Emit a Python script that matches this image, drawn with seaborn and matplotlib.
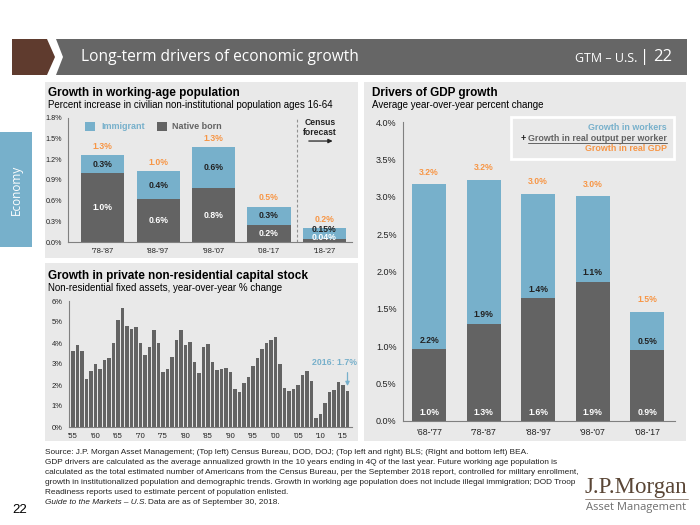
import matplotlib
matplotlib.use("Agg")
import matplotlib.pyplot as plt
import seaborn as sns
import pandas as pd
from matplotlib.patches import Rectangle, Polygon
from matplotlib.lines import Line2D
from matplotlib.ticker import FixedLocator

# ---------------- data ----------------
pop_periods = ["'78-'87", "'88-'97", "'98-'07", "'08-'17", "'18-'27"]
pop_native = [1.00, 0.62, 0.78, 0.25, 0.05]
pop_immigrant = [0.26, 0.41, 0.59, 0.26, 0.155]
pop_native_labels = ["1.0%", "0.6%", "0.8%", "0.2%", "0.04%"]
pop_immigrant_labels = ["0.3%", "0.4%", "0.6%", "0.3%", "0.15%"]
pop_total_labels = ["1.3%", "1.0%", "1.3%", "0.5%", "0.2%"]
pop_yticks = [0.0, 0.3, 0.6, 0.9, 1.2, 1.5, 1.8]

capex_years = list(range(1955, 2017))
capex_growth = [3.6, 3.9, 3.6, 2.3, 2.65, 3.0, 2.75, 3.2, 3.3, 4.0,
                5.1, 5.65, 4.8, 4.65, 4.75, 4.0, 3.45, 3.8, 4.6, 4.0,
                2.6, 2.75, 3.35, 4.15, 4.6, 3.9, 4.05, 3.1, 2.55, 3.8,
                3.95, 3.1, 2.7, 2.75, 2.8, 2.6, 1.8, 1.65, 2.1, 2.4,
                2.9, 3.3, 3.7, 4.0, 4.15, 4.3, 3.0, 1.85, 1.7, 1.8,
                2.0, 2.5, 2.65, 2.2, 0.45, 0.6, 1.15, 1.65, 1.75, 2.15,
                2.0, 1.7]
capex_tick_years = [1955, 1960, 1965, 1970, 1975, 1980, 1985, 1990, 1995, 2000, 2005, 2010, 2015]
capex_tick_labels = ["'55", "'60", "'65", "'70", "'75", "'80", "'85", "'90", "'95", "'00", "'05", "'10", "'15"]

gdp_periods = ["'68-'77", "'78-'87", "'88-'97", "'98-'07", "'08-'17"]
gdp_output_per_worker = [0.96, 1.30, 1.64, 1.86, 0.95]
gdp_workers = [2.21, 1.93, 1.40, 1.15, 0.51]
gdp_opw_labels = ["1.0%", "1.3%", "1.6%", "1.9%", "0.9%"]
gdp_workers_labels = ["2.2%", "1.9%", "1.4%", "1.1%", "0.5%"]
gdp_total_labels = ["3.2%", "3.2%", "3.0%", "3.0%", "1.5%"]
gdp_yticks = [0.0, 0.5, 1.0, 1.5, 2.0, 2.5, 3.0, 3.5, 4.0]

footnote_lines = [
    "Source: J.P. Morgan Asset Management; (Top left) Census Bureau, DOD, DOJ; (Top left and right) BLS; (Right and bottom left) BEA.",
    "GDP drivers are calculated as the average annualized growth in the 10 years ending in 4Q of the last year. Future working age population is",
    "calculated as the total estimated number of Americans from the Census Bureau, per the September 2018 report, controlled for military enrollment,",
    "growth in institutionalized population and demographic trends. Growth in working age population does not include illegal immigration; DOD Troop",
    "Readiness reports used to estimate percent of population enlisted.",
]

# ---------------- style ----------------
sns.set_style("white")
plt.rcParams['font.family'] = ['Liberation Sans', 'DejaVu Sans']

BLUE = "#77B0CB"
DARK = "#636363"
ORANGE = "#F79646"
PANEL = "#E9E9E9"
HEADER = "#666666"
BROWN = "#5F3B2E"
SPINE = "#808080"
TXT = "#222222"

W, H = 700, 525
fig = plt.figure(figsize=(7, 5.25), dpi=100)


def fx(x):
    return x / W


def fy(y):
    return 1 - y / H


def prect(x0, y0, x1, y1, **kw):
    kw.setdefault('zorder', -10)
    fig.patches.append(Rectangle((fx(x0), fy(y1)), (x1 - x0) / W, (y1 - y0) / H,
                                 transform=fig.transFigure, **kw))


def ppoly(pts, **kw):
    kw.setdefault('zorder', -10)
    fig.patches.append(Polygon([(fx(x), fy(y)) for x, y in pts], closed=True,
                               transform=fig.transFigure, **kw))


def ptext(x, y, s, **kw):
    kw.setdefault('va', 'center')
    return fig.text(fx(x), fy(y), s, **kw)


# header
ppoly([(12, 39), (47, 39), (55, 57), (47, 75), (12, 75)], facecolor=BROWN, edgecolor='none')
ppoly([(56, 39), (687, 39), (687, 75), (56, 75), (63, 57)], facecolor=HEADER, edgecolor='none')
ptext(81, 57, "Long-term drivers of economic growth", color='white', fontsize=11.2,
      family=['Open Sans', 'DejaVu Sans'])
ptext(637, 58, "GTM – U.S.", color='white', fontsize=9, ha='right', family=['Open Sans', 'DejaVu Sans'])
ptext(645, 57, "|", color='white', fontsize=12, ha='center', family=['Open Sans', 'DejaVu Sans'])
ptext(663, 57, "22", color='white', fontsize=12, ha='center', family=['Open Sans', 'DejaVu Sans'])

# side tab
prect(0, 132, 32, 247, facecolor=BLUE, edgecolor='none')
ptext(16, 190, "Economy", color='white', fontsize=8.5, rotation=90, ha='center',
      family=['Open Sans', 'DejaVu Sans'])

# panels
prect(45, 82, 358, 258, facecolor=PANEL, edgecolor='none')
prect(45, 263, 358, 441, facecolor=PANEL, edgecolor='none')
prect(364, 82, 686, 441, facecolor=PANEL, edgecolor='none')


def style_axes(ax):
    ax.set_facecolor('none')
    for s in ['top', 'right']:
        ax.spines[s].set_visible(False)
    for s in ['left', 'bottom']:
        ax.spines[s].set_color(SPINE)
        ax.spines[s].set_linewidth(0.8)
    ax.set_xlabel('')
    ax.set_ylabel('')
    ax.tick_params(axis='both', which='both', direction='out', color=SPINE, width=0.8,
                   length=2.5, pad=2, labelcolor=TXT)


# ---------------- top-left: working-age population ----------------
ax1 = fig.add_axes([fx(68), fy(242.3), 284 / W, 124.6 / H])
df_pop = pd.DataFrame({"period": pop_periods, "native": pop_native, "immigrant": pop_immigrant})
df_pop["total"] = df_pop["native"] + df_pop["immigrant"]
sns.barplot(data=df_pop, x="period", y="total", color=BLUE, saturation=1, width=0.78,
            linewidth=0, ax=ax1)
sns.barplot(data=df_pop, x="period", y="native", color=DARK, saturation=1, width=0.78,
            linewidth=0, ax=ax1)
style_axes(ax1)
ax1.set_ylim(0, 1.8)
ax1.set_xlim(-0.63, 4.5)
ax1.set_yticks(pop_yticks)
ax1.set_yticklabels([f"{v:.1f}%" for v in pop_yticks], fontsize=5.2)
ax1.tick_params(axis='x', which='major', length=0, labelsize=5.5, pad=4)
ax1.xaxis.set_minor_locator(FixedLocator([i + 0.5 for i in range(-1, len(pop_periods))]))
ax1.tick_params(axis='x', which='minor', length=2.5)
for i, row in df_pop.iterrows():
    nat_y = max(row.native / 2, 0.07)
    imm_y = max(row.native + row.immigrant / 2, nat_y + 0.11)
    ax1.text(i, nat_y, pop_native_labels[i], ha='center', va='center', color='white',
             fontsize=6.2, fontweight='bold')
    ax1.text(i, imm_y, pop_immigrant_labels[i], ha='center', va='center', color=TXT,
             fontsize=6.2, fontweight='bold')
    ax1.text(i, row.total + 0.13, pop_total_labels[i], ha='center', va='center', color=ORANGE,
             fontsize=6.2, fontweight='bold')
ax1.axvline(3.5, color='#909090', lw=0.8, ls=(0, (2.5, 2)), ymin=0, ymax=1)
ax1.text(3.92, 1.737, "Census", ha='center', va='center', fontsize=6.2, fontweight='bold', color=TXT)
ax1.text(3.92, 1.593, "forecast", ha='center', va='center', fontsize=6.2, fontweight='bold', color=TXT)
ax1.annotate("", xy=(4.2, 1.463), xytext=(3.67, 1.463),
             arrowprops=dict(arrowstyle='-|>', color=TXT, lw=0.9, mutation_scale=6))
ptext(48, 93, "Growth in working-age population", fontsize=8.5, fontweight='bold', color='black')
ptext(48, 105, "Percent increase in civilian non-institutional population ages 16-64",
      fontsize=7, color='black')
# legend
prect(85, 122, 95, 131, facecolor=BLUE, edgecolor='none')
ptext(101, 126.5, "Immigrant", fontsize=6.5, fontweight='bold', color=BLUE)
prect(157, 122, 167, 131, facecolor=DARK, edgecolor='none')
ptext(172, 126.5, "Native born", fontsize=6.5, fontweight='bold', color=DARK)

# ---------------- bottom-left: capital stock ----------------
ax2 = fig.add_axes([fx(69), fy(427), 283 / W, 126 / H])
df_cap = pd.DataFrame({"year": capex_years, "growth": capex_growth})
sns.barplot(data=df_cap, x="year", y="growth", color=DARK, saturation=1, width=0.74,
            linewidth=0, ax=ax2)
style_axes(ax2)
ax2.set_ylim(0, 6)
ax2.set_xlim(-0.9, 62)
ax2.set_yticks(range(0, 7))
ax2.set_yticklabels([f"{v}%" for v in range(0, 7)], fontsize=5.5)
ax2.set_xticks([capex_years.index(y) for y in capex_tick_years])
ax2.set_xticklabels(capex_tick_labels, fontsize=5.5)
ax2.text(58.0, 3.05, "2016: 1.7%", ha='center', va='center', color=BLUE, fontsize=6.3,
         fontweight='bold')
ax2.annotate("", xy=(61, 1.82), xytext=(61, 2.72),
             arrowprops=dict(arrowstyle='-|>', color=BLUE, lw=0.9, mutation_scale=6))
ptext(48, 276, "Growth in private non-residential capital stock", fontsize=8.5,
      fontweight='bold', color='black')
ptext(48, 288, "Non-residential fixed assets, year-over-year % change", fontsize=7, color='black')

# ---------------- right: drivers of GDP growth ----------------
ax3 = fig.add_axes([fx(403), fy(421), 272 / W, 299 / H])
df_gdp = pd.DataFrame({"period": gdp_periods, "opw": gdp_output_per_worker, "workers": gdp_workers})
df_gdp["total"] = df_gdp["opw"] + df_gdp["workers"]
sns.barplot(data=df_gdp, x="period", y="total", color=BLUE, saturation=1, width=0.63,
            linewidth=0, ax=ax3)
sns.barplot(data=df_gdp, x="period", y="opw", color=DARK, saturation=1, width=0.63,
            linewidth=0, ax=ax3)
style_axes(ax3)
ax3.set_ylim(0, 4)
ax3.set_xlim(-0.48, 4.51)
ax3.set_yticks(gdp_yticks)
ax3.set_yticklabels([f"{v:.1f}%" for v in gdp_yticks], fontsize=6.5)
ax3.tick_params(axis='x', which='major', length=0, labelsize=6.3, pad=5)
ax3.xaxis.set_minor_locator(FixedLocator([i + 0.5 for i in range(-1, len(gdp_periods))]))
ax3.tick_params(axis='x', which='minor', length=2.5)
for i, row in df_gdp.iterrows():
    ax3.text(i, 0.12, gdp_opw_labels[i], ha='center', va='center', color='white',
             fontsize=6.2, fontweight='bold')
    ax3.text(i, row.opw + 0.12, gdp_workers_labels[i], ha='center', va='center', color=TXT,
             fontsize=6.2, fontweight='bold')
    ax3.text(i, row.total + 0.16, gdp_total_labels[i], ha='center', va='center', color=ORANGE,
             fontsize=6.2, fontweight='bold')
ptext(372, 93, "Drivers of GDP growth", fontsize=8.5, fontweight='bold', color='black')
ptext(372, 105, "Average year-over-year percent change", fontsize=7, color='black')
# legend box
prect(511, 117, 674, 159, facecolor=PANEL, edgecolor='white', linewidth=2, zorder=5)
LZ = 6
ptext(667, 128, "Growth in workers", ha='right', fontsize=6.4, fontweight='bold', color=BLUE, zorder=LZ)
t_opw = ptext(667, 138.5, "Growth in real output per worker", ha='right', fontsize=6.4,
              fontweight='bold', color=DARK, zorder=LZ)
ptext(667, 149, "Growth in real GDP", ha='right', fontsize=6.4, fontweight='bold', color=ORANGE, zorder=LZ)
fig.canvas.draw()
rend = fig.canvas.get_renderer()
bb = t_opw.get_window_extent(rend).transformed(fig.transFigure.inverted())
fig.lines.append(Line2D([bb.x0, bb.x1], [fy(142.8), fy(142.8)], transform=fig.transFigure,
                        color=DARK, lw=0.7, zorder=LZ))
fig.text(bb.x0 - 2 / W, fy(138.5), "+", ha='right', va='center', fontsize=6.4,
         fontweight='bold', color=TXT, zorder=LZ)

# ---------------- footnotes ----------------
FN = 5.95
for k, line in enumerate(footnote_lines):
    ptext(45, 453 + k * 9.9, line, fontsize=FN, color=TXT)
t_it = ptext(45, 453 + 5 * 9.9, "Guide to the Markets – U.S.", fontsize=FN, color=TXT, style='italic')
fig.canvas.draw()
bb2 = t_it.get_window_extent(rend).transformed(fig.transFigure.inverted())
fig.text(bb2.x1 + 1.5 / W, fy(453 + 5 * 9.9), "Data are as of September 30, 2018.",
         fontsize=FN, color=TXT, va='center')
ptext(12, 510, "22", fontsize=9.5, color='black')

# logo
ptext(636, 488, "J.P.Morgan", ha='center', fontsize=16.5, color='#5A4636',
      family=['Liberation Serif', 'DejaVu Serif'])
fig.lines.append(Line2D([fx(585), fx(688)], [fy(498.5), fy(498.5)], transform=fig.transFigure,
                        color='#8A7A6E', lw=0.6))
ptext(636, 507.5, "Asset Management", ha='center', fontsize=8, color='#6E6E6E',
      family=['Open Sans', 'DejaVu Sans'])

fig.savefig("out.png", dpi=100)
